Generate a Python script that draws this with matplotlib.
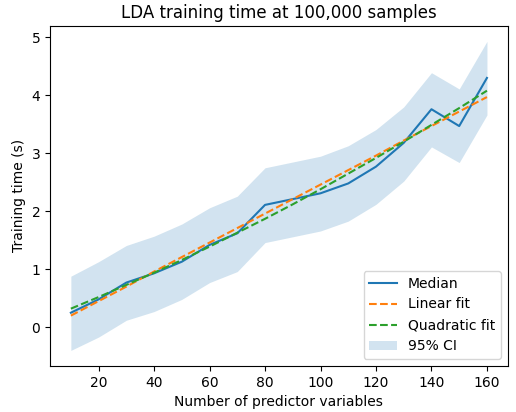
import numpy as np
import matplotlib
matplotlib.use("Agg")
import matplotlib.pyplot as plt

# number of predictor variables
n_vars = [10, 20, 30, 40, 50, 60, 70, 80, 90, 100, 110, 120, 130, 140, 150, 160]

# training times (s)
median = [0.25, 0.48, 0.77, 0.93, 1.13, 1.42, 1.62, 2.11, 2.21, 2.31, 2.48, 2.77, 3.18, 3.76, 3.47, 4.30]
ci_low = [-0.40, -0.17, 0.12, 0.27, 0.48, 0.77, 0.96, 1.46, 1.56, 1.66, 1.83, 2.12, 2.52, 3.11, 2.84, 3.66]
ci_high = [0.88, 1.13, 1.41, 1.57, 1.78, 2.06, 2.26, 2.75, 2.85, 2.95, 3.13, 3.41, 3.80, 4.39, 4.11, 4.93]
lin_fit = [0.20, 0.45, 0.70, 0.96, 1.21, 1.46, 1.71, 1.96, 2.21, 2.46, 2.71, 2.96, 3.22, 3.47, 3.72, 3.97]
quad_fit = [0.32, 0.52, 0.73, 0.94, 1.16, 1.39, 1.63, 1.87, 2.12, 2.38, 2.65, 2.92, 3.20, 3.49, 3.78, 4.08]

fig = plt.figure(figsize=(5.16, 4.12), dpi=100)
ax = fig.add_axes([0.097, 0.112, 0.887, 0.825])

ax.plot(n_vars, median, color='C0', label='Median')
ax.plot(n_vars, lin_fit, '--', color='C1', label='Linear fit')
ax.plot(n_vars, quad_fit, '--', color='C2', label='Quadratic fit')
ax.fill_between(n_vars, ci_low, ci_high, color='C0', alpha=0.2, linewidth=0, label='95% CI')

ax.set_title('LDA training time at 100,000 samples')
ax.set_xlabel('Number of predictor variables')
ax.set_ylabel('Training time (s)')
ax.legend(loc='lower right')

fig.savefig('out.png', dpi=100)
